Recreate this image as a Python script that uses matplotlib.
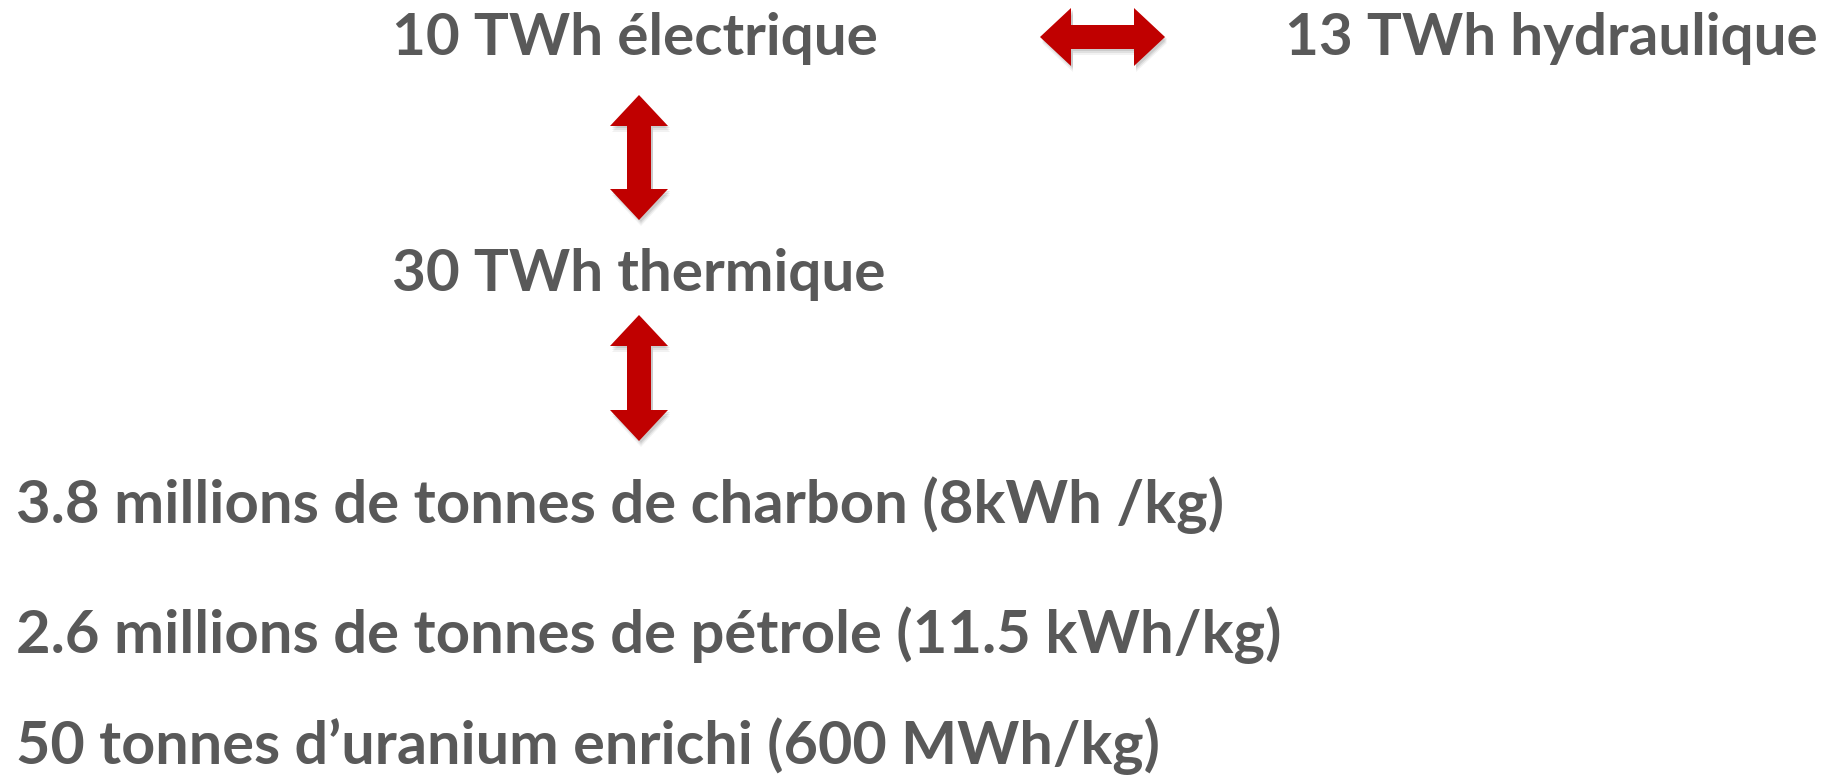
import matplotlib.pyplot as plt
from matplotlib.patches import Polygon

plt.rcParams['font.family'] = ['Lato', 'DejaVu Sans']

# texts and where their left baseline sits (pixels, origin top-left)
labels = ["10 TWh électrique", "13 TWh hydraulique", "30 TWh thermique",
          "3.8 millions de tonnes de charbon (8kWh /kg)",
          "2.6 millions de tonnes de pétrole (11.5 kWh/kg)",
          "50 tonnes d\u2019uranium enrichi (600 MWh/kg)"]
label_x = [392, 1285, 392, 16, 16, 16]
label_y = [55, 55, 291, 523, 653, 764]
label_size = [42, 42, 42, 43, 43, 42.7]

# double arrows: (x0, y0, x1, y1) tips
arrows = [(1040, 37, 1165, 37), (639, 95, 639, 220), (639, 315, 639, 441)]

W, H = 1845, 775
fig = plt.figure(figsize=(W / 100, H / 100), dpi=100)
ax = fig.add_axes([0, 0, 1, 1])
ax.set_xlim(0, W)
ax.set_ylim(H, 0)
ax.axis('off')

grey = '#595959'
red = '#C00000'


def double_arrow(x0, y0, x1, y1, head_len=31, head_w=29, shaft_w=12):
    # build outline in local frame then map
    import numpy as np
    L = np.hypot(x1 - x0, y1 - y0)
    ux, uy = (x1 - x0) / L, (y1 - y0) / L
    px, py = -uy, ux
    local = [(0, 0), (head_len, head_w), (head_len, shaft_w),
             (L - head_len, shaft_w), (L - head_len, head_w), (L, 0),
             (L - head_len, -head_w), (L - head_len, -shaft_w),
             (head_len, -shaft_w), (head_len, -head_w)]
    return [(x0 + a * ux + b * px, y0 + a * uy + b * py) for a, b in local]


for x0, y0, x1, y1 in arrows:
    pts = double_arrow(x0, y0, x1, y1)
    for k, al in [(6, 0.05), (4, 0.07), (2, 0.09)]:
        sh = [(x + 2, y + k) for x, y in pts]
        ax.add_patch(Polygon(sh, closed=True, fc='black', ec='none', alpha=al))
    ax.add_patch(Polygon(pts, closed=True, fc=red, ec='none'))

for t, x, y, s in zip(labels, label_x, label_y, label_size):
    ax.text(x, y, t, fontsize=s, fontweight='bold', color=grey,
            ha='left', va='baseline')

fig.savefig('out.png', dpi=100)
